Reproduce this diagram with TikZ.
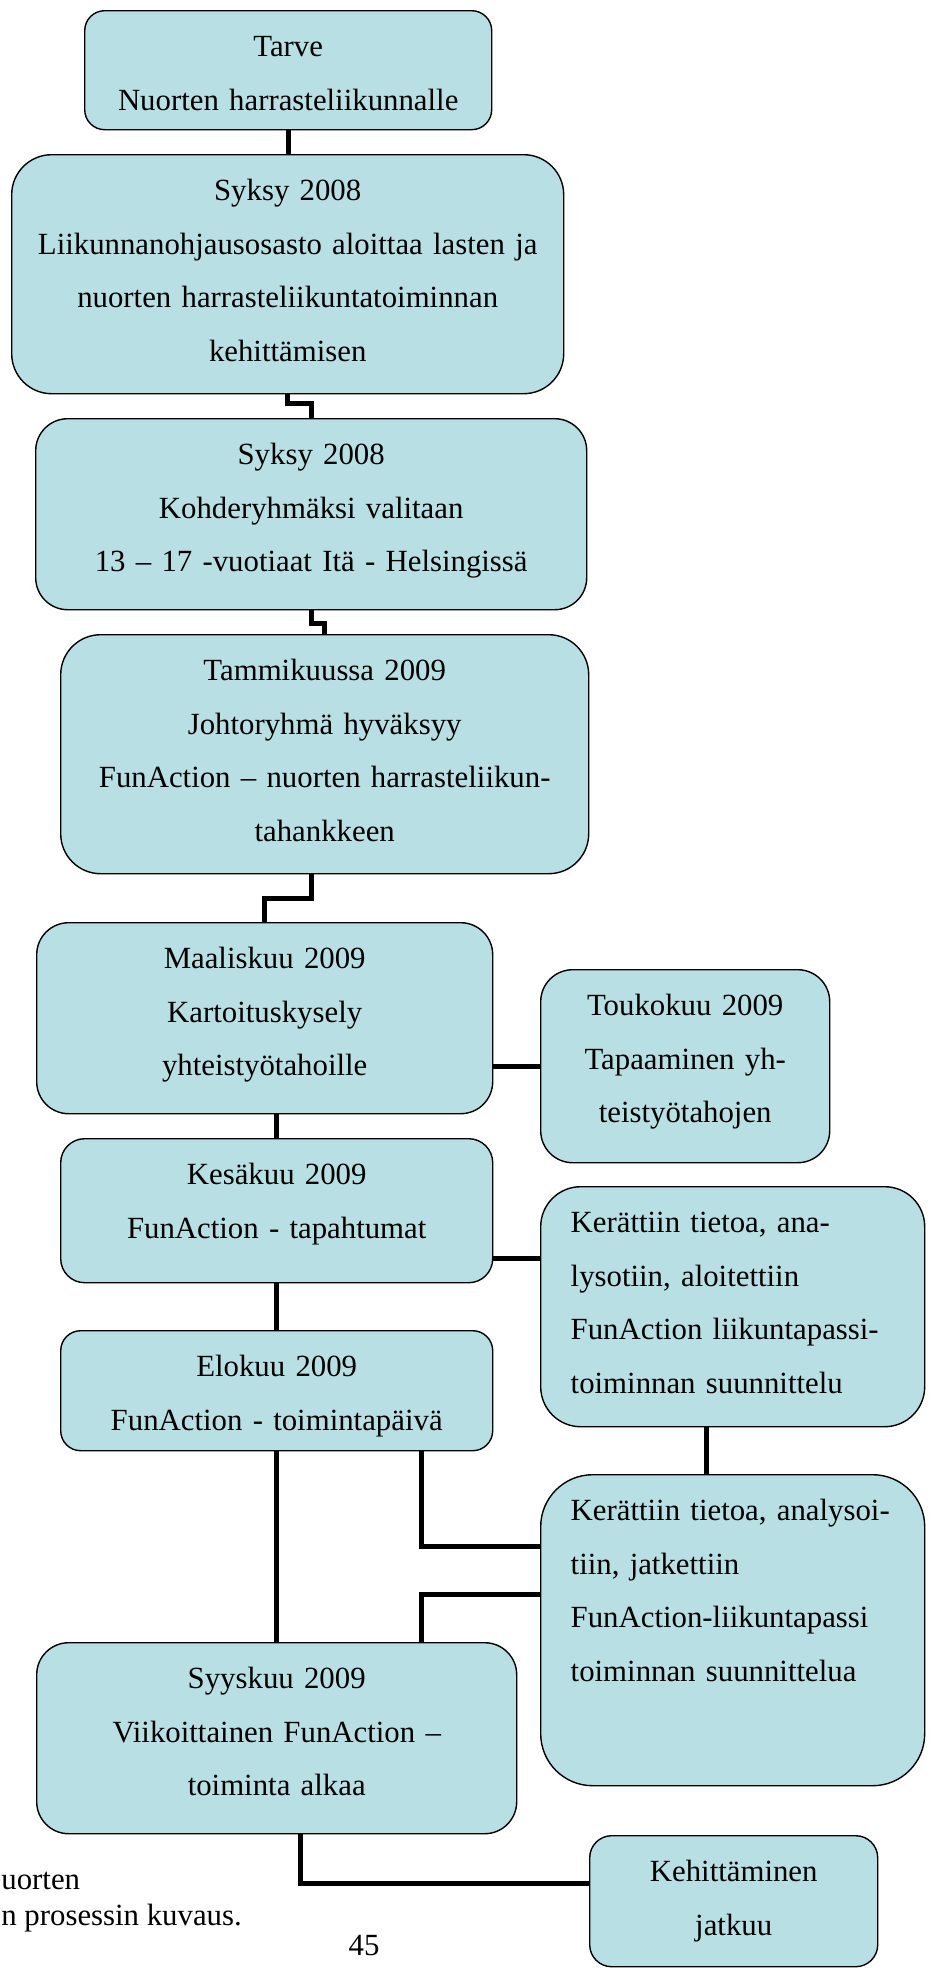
\documentclass[tikz,border=0pt]{standalone}
\usepackage{fontspec}
\setmainfont{Liberation Serif}
\definecolor{ffbox}{RGB}{184,223,227}
\tikzset{
  stage/.style={draw=black, line width=0.7pt, fill=ffbox, align=center,
                anchor=north west, inner xsep=8pt, inner ysep=0pt, text height=23pt,
                font=\fontsize{15.4pt}{26.75pt}\selectfont},
  note/.style={stage, align=left, inner xsep=15pt},
  link/.style={line width=2.5pt, draw=black},
  pagetext/.style={font=\fontsize{15.4pt}{26.75pt}\selectfont, inner sep=0pt, anchor=base west}
}
\begin{document}
\begin{tikzpicture}[x=0.5pt, y=-0.5pt]
  \useasboundingbox (0,0) rectangle (930,1970);
  \node[stage, text width=187.5pt, text depth=36.5pt, rounded corners=10pt] (tarve) at (84,10)
    {Tarve\\Nuorten harrasteliikunnalle};
  \node[stage, text width=260pt, text depth=96.5pt, rounded corners=20pt] (syksya) at (11,154)
    {Syksy 2008\\Liikunnanohjausosasto aloittaa lasten ja\\nuorten harrasteliikuntatoiminnan\\kehittämisen};
  \node[stage, text width=259.5pt, text depth=72.5pt, rounded corners=16pt] (syksyb) at (35,418)
    {Syksy 2008\\Kohderyhmäksi valitaan\\13 -- 17 -vuotiaat Itä - Helsingissä};
  \node[stage, text width=248pt, text depth=96.5pt, rounded corners=20pt] (tammi) at (60,634)
    {Tammikuussa 2009\\Johtoryhmä hyväksyy\\FunAction -- nuorten harrasteliikun-\\tahankkeen};
  \node[stage, text width=212pt, text depth=72.5pt, rounded corners=16pt] (maalis) at (36,922)
    {Maaliskuu 2009\\Kartoituskysely\\yhteistyötahoille};
  \node[stage, text width=128.5pt, text depth=73.5pt, rounded corners=16pt] (touko) at (540,969)
    {Toukokuu 2009\\Tapaaminen yh-\\teistyötahojen};
  \node[stage, text width=200pt, text depth=49pt, rounded corners=12pt] (kesa) at (60,1138)
    {Kesäkuu 2009\\FunAction - tapahtumat};
  \node[note, text width=162pt, text depth=97pt, rounded corners=20pt] (keruua) at (540,1186)
    {Kerättiin tietoa, ana-\\lysotiin, aloitettiin\\FunAction liikuntapassi-\\toiminnan suunnittelu};
  \node[stage, text width=200pt, text depth=37pt, rounded corners=10pt] (elo) at (60,1330)
    {Elokuu 2009\\FunAction - toimintapäivä};
  \node[note, text width=162pt, text depth=132.5pt, rounded corners=26pt] (keruub) at (540,1474)
    {Kerättiin tietoa, analysoi-\\tiin, jatkettiin\\FunAction-liikuntapassi\\toiminnan suunnittelua};
  \node[stage, text width=224pt, text depth=72.5pt, rounded corners=16pt] (syys) at (36,1642)
    {Syyskuu 2009\\Viikoittainen FunAction --\\toiminta alkaa};
  \node[stage, text width=128pt, text depth=42.5pt, rounded corners=11pt] (jatkuu) at (589,1835)
    {Kehittäminen\\jatkuu};

  \draw[link] (tarve.south) -- (tarve.south |- syksya.north);
  \draw[link] (syksya.south) -- ++(0,9) -| (syksyb.north);
  \draw[link] (syksyb.south) -- ++(0,13) -| (tammi.north);
  \draw[link] (syksyb.south |- tammi.south) -- ++(0,24) -| (maalis.north);
  \draw[link] (touko.west) -- (touko.west -| maalis.east);
  \draw[link] (kesa.north) -- (kesa.north |- maalis.south);
  \draw[link] ([yshift=-24pt]kesa.east) -- ([yshift=-24pt]kesa.east -| keruua.west);
  \draw[link] (elo.north) -- (elo.north |- kesa.south);
  \draw[link] ([xshift=-13pt]keruua.south) -- ([xshift=-13pt]keruua.south |- keruub.north);
  \draw[link] (elo.south) -- (elo.south |- syys.north);
  \draw[link] ([xshift=72.5pt]elo.south) |- ([yshift=42pt]keruub.west);
  \draw[link] ([yshift=18pt]keruub.west) -| ([xshift=72.5pt]syys.north);
  \draw[link] ([xshift=12pt]syys.south) |- ([yshift=9pt]jatkuu.west);

  \node[pagetext] (capa) at (1,1889) {uorten};
  \node[pagetext] (capb) at (1,1925) {n prosessin kuvaus.};
  \node[pagetext, anchor=base] (sivu) at (364,1955) {45};
\end{tikzpicture}
\end{document}
